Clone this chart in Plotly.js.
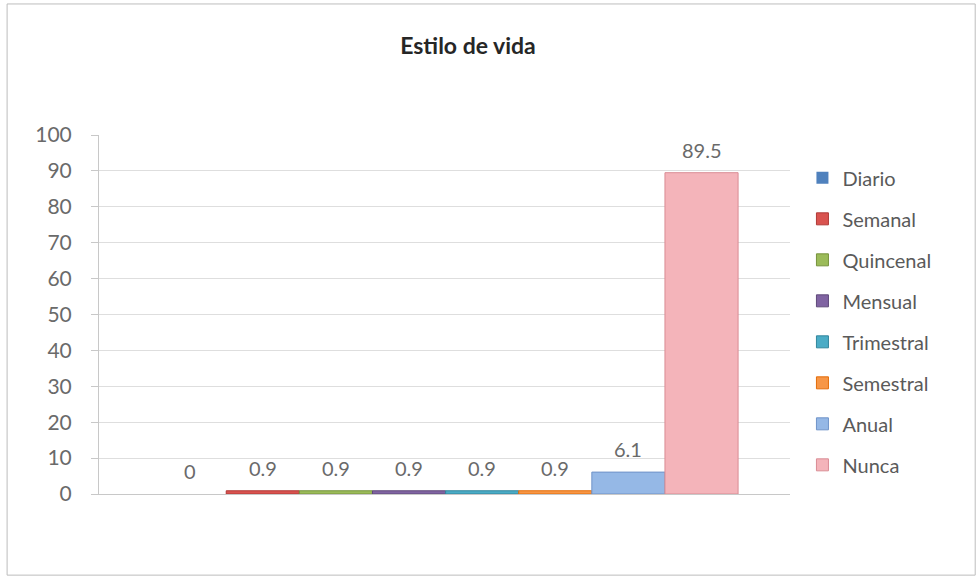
<!DOCTYPE html>
<html>
<head>
<meta charset="utf-8">
<script src="https://cdn.plot.ly/plotly-3.0.1.min.js"></script>
<style>html,body{margin:0;padding:0;background:#fff;}#chart{width:979px;height:579px;}</style>
</head>
<body>
<div id="chart"></div>
<script>
const categories = ['Diario','Semanal','Quincenal','Mensual','Trimestral','Semestral','Anual','Nunca'];
const values = [0, 0.9, 0.9, 0.9, 0.9, 0.9, 6.1, 89.5];
const valueLabels = ['0','0.9','0.9','0.9','0.9','0.9','6.1','89.5'];
const barColors = ['#4F81BD','#D9534F','#9BBB59','#8064A2','#4BACC6','#F79646','#95B8E6','#F4B4BA'];
const lineColors = ['#3A6396','#B03A37','#76923C','#5F497A','#31859C','#E36C09','#6F93C8','#D98C94'];
const yTicks = [0,10,20,30,40,50,60,70,80,90,100];

const font = 'Lato, "Open Sans", sans-serif';
const traces = categories.map((c, i) => ({
  type: 'bar',
  name: c,
  x: [i],
  y: [values[i]],
  width: [1],
  legendgroup: 'g' + i,
  marker: {color: barColors[i], line: {color: lineColors[i], width: values[i] > 0 ? 1 : 0}},
  hoverinfo: 'name+y'
}));

const annotations = categories.map((c, i) => ({
  x: i, y: values[i], xref: 'x', yref: 'y',
  text: valueLabels[i], showarrow: false,
  yanchor: 'bottom', yshift: 9,
  font: {family: font, size: 20, color: '#6a6a6a'}
}));

const layout = {
  width: 979, height: 579,
  margin: {l: 99, r: 189, t: 135, b: 85},
  paper_bgcolor: '#ffffff', plot_bgcolor: '#ffffff',
  barmode: 'overlay',
  title: {text: 'Estilo de vida', x: 0.478, xanchor: 'center', y: 0.921, yanchor: 'middle',
          font: {family: font, size: 23, color: '#262626', weight: 'bold'}},
  xaxis: {range: [-1.24, 8.21], showticklabels: false, showgrid: false, zeroline: false,
          showline: true, linecolor: '#c8c8c8', linewidth: 1, ticks: ''},
  yaxis: {range: [0, 100], tickvals: yTicks, ticktext: yTicks.map(String),
          showline: true, linecolor: '#c8c8c8', linewidth: 1,
          ticks: 'outside', ticklen: 7, tickcolor: '#c8c8c8', ticklabelstandoff: 15,
          gridcolor: '#dedede', gridwidth: 1, zeroline: false,
          tickfont: {family: font, size: 21, color: '#6a6a6a'}},
  legend: {x: 1.018, xanchor: 'left', y: 0.935, yanchor: 'top',
           traceorder: 'grouped', tracegroupgap: 12,
           font: {family: font, size: 20, color: '#5a5a5a'}, bgcolor: 'rgba(0,0,0,0)'},
  annotations: annotations,
  shapes: [{type: 'rect', xref: 'paper', yref: 'paper', x0: -0.133, x1: 1.268, y0: -0.226, y1: 1.365,
            line: {color: '#bdbdbd', width: 1}}],
  showlegend: true
};

Plotly.newPlot('chart', traces, layout, {displayModeBar: false, staticPlot: true});
</script>
</body>
</html>
